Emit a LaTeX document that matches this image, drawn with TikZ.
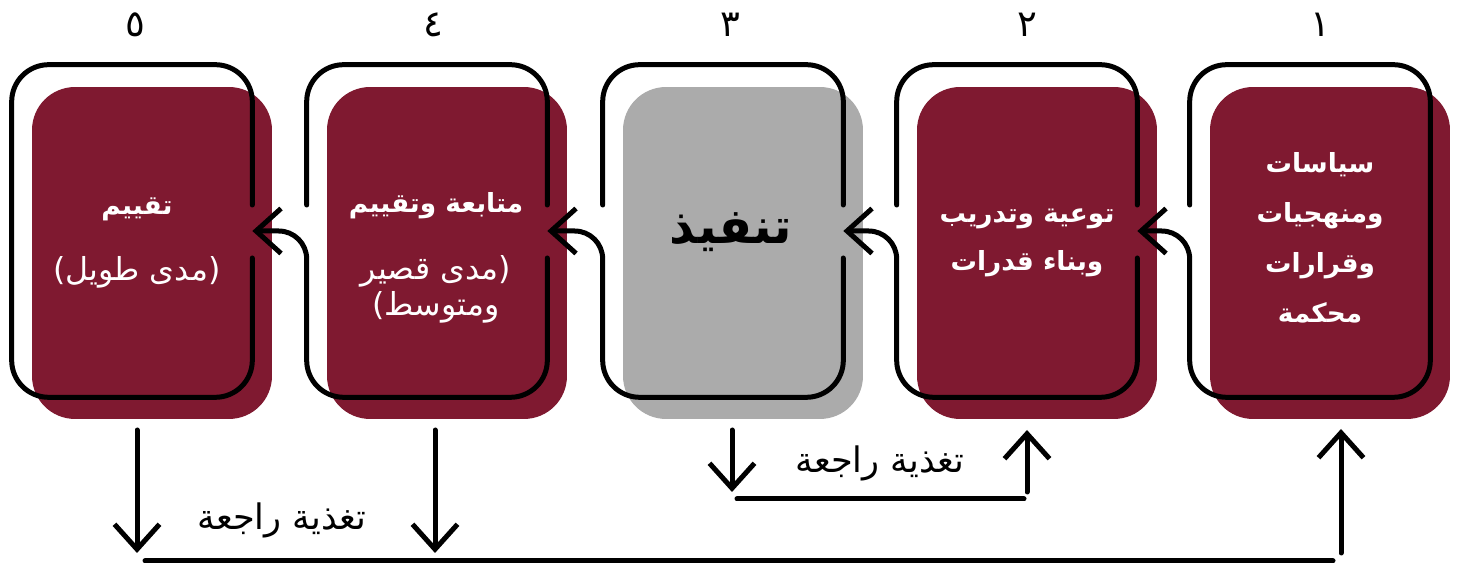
\documentclass[tikz,border=0pt]{standalone}
\usepackage{fontspec}
\setmainfont{DejaVu Sans}
\newfontfamily\arabicfont[Script=Arabic]{DejaVu Sans}
\TeXXeTstate=1
\usepackage{tikz}
\usetikzlibrary{arrows.meta,calc}
\definecolor{cardred}{RGB}{127,25,48}
\definecolor{cardgray}{RGB}{171,171,171}
\tikzset{step card/.style={
    rectangle,
    rounded corners=0.86cm,
    minimum width=4.8cm,
    minimum height=6.64cm,
    inner sep=0pt,
    fill=#1
  },
  step card/.default=cardred,
  step frame/.style={
    rectangle,
    minimum width=4.8cm,
    minimum height=6.64cm,
    inner sep=0pt
  },
  step text/.style={
    align=center,
    text=white,
    inner sep=0pt,
    font=\arabicfont\fontsize{18}{21}\selectfont
  },
  frame line/.style={line width=0.1cm, line cap=round, rounded corners=0.74cm},
  barb tip/.style={-{Straight Barb[length=0.5cm,width=0.9cm]}},
  step number/.style={anchor=base, font=\arabicfont\fontsize{21}{24}\selectfont},
  feedback text/.style={font=\arabicfont\fontsize{20}{24}\selectfont}
}

\begin{document}
\begin{tikzpicture}[x=0.02cm, y=-0.02cm]
    \useasboundingbox (0,0) rectangle (1461,563);
    % cards
    \node[step card] (f5) at (152,253) {};
    \node[step card] (f4) at (447,253) {};
    \node[step card=cardgray] (f3) at (743,253) {};
    \node[step card] (f2) at (1037,253) {};
    \node[step card] (f1) at (1330,253) {};
    \node[step frame] (o5) at (132,231) {};
    \node[step frame] (o4) at (427,231) {};
    \node[step frame] (o3) at (723,231) {};
    \node[step frame] (o2) at (1017,231) {};
    \node[step frame] (o1) at (1310,231) {};
    % texts
    \node[step text] (t5) at (137,243) {{\bfseries\fontsize{15}{21}\selectfont\beginR تقييم\endR}\\[17pt]\beginR(مدى طويل)\endR};
    \node[step text] (t4) at (436,258) {{\bfseries\fontsize{15}{21}\selectfont\beginR متابعة وتقييم\endR}\\[17pt]\beginR(مدى قصير\endR\\\beginR ومتوسط)\endR};
    \node[step text, text=black, font=\arabicfont\bfseries\fontsize{28}{34}\selectfont] (t3) at (731,232) {\beginR تنفيذ\endR};
    \node[step text, font=\arabicfont\bfseries\fontsize{15}{27}\selectfont] (t2) at (1027,243) {\beginR توعية وتدريب\endR\\\beginR وبناء قدرات\endR};
    \node[step text, font=\arabicfont\bfseries\fontsize{15}{28.5}\selectfont] (t1) at (1320,238) {\beginR سياسات\endR\\\beginR ومنهجيات\endR\\\beginR وقرارات\endR\\\beginR محكمة\endR};
    % numbers
    \node[step number] (n5) at (135,37) {٥};
    \node[step number] (n4) at (433,37) {٤};
    \node[step number] (n3) at (730,37) {٣};
    \node[step number] (n2) at (1027,37) {٢};
    \node[step number] (n1) at (1320,37) {١};
    % frames and links
    \draw[frame line] ($(o5.east)+(0,-26)$) -- (o5.north east) -- (o5.north west) -- (o5.south west) -- (o5.south east) -- ($(o5.east)+(0,27)$);
    \draw[frame line] ($(o4.west)+(0,-26)$) -- (o4.north west) -- (o4.north east) -- ($(o4.east)+(0,-26)$);
    \draw[frame line] ($(o3.west)+(0,-26)$) -- (o3.north west) -- (o3.north east) -- ($(o3.east)+(0,-26)$);
    \draw[frame line] ($(o2.west)+(0,-26)$) -- (o2.north west) -- (o2.north east) -- ($(o2.east)+(0,-26)$);
    \draw[frame line, barb tip] ($(o4.east)+(0,27)$) -- (o4.south east) -- (o4.south west) [rounded corners=0.56cm] -- (o4.west) -- (o5.east);
    \draw[frame line, barb tip] ($(o3.east)+(0,27)$) -- (o3.south east) -- (o3.south west) [rounded corners=0.56cm] -- (o3.west) -- (o4.east);
    \draw[frame line, barb tip] ($(o2.east)+(0,27)$) -- (o2.south east) -- (o2.south west) [rounded corners=0.56cm] -- (o2.west) -- (o3.east);
    \draw[frame line, barb tip] ($(o1.west)+(0,-26)$) -- (o1.north west) -- (o1.north east) -- (o1.south east) -- (o1.south west) [rounded corners=0.56cm] -- (o1.west) -- (o2.east);
    % feedback
    \coordinate (a5) at (137,430);
    \coordinate (b5) at (137,553);
    \coordinate (a4) at (435,430);
    \coordinate (b4) at (435,553);
    \coordinate (a1) at (1341,429);
    \coordinate (b1) at (1341,553);
    \coordinate (l1) at (145,561);
    \coordinate (r1) at (1333,561);
    \coordinate (a3) at (732,430);
    \coordinate (b3) at (732,492);
    \coordinate (a2) at (1027,430);
    \coordinate (b2) at (1027,492);
    \coordinate (l2) at (737,499);
    \coordinate (r2) at (1024,499);
    \draw[frame line, barb tip] (a5) -- (b5);
    \draw[frame line, barb tip] (a4) -- (b4);
    \draw[frame line, barb tip] (b1) -- (a1);
    \draw[frame line] (l1) -- (r1);
    \draw[frame line, barb tip] (a3) -- (b3);
    \draw[frame line, barb tip] (b2) -- (a2);
    \draw[frame line] (l2) -- (r2);
    \node[feedback text] (fb1) at (282,520) {\beginR تغذية راجعة\endR};
    \node[feedback text] (fb2) at (880,463) {\beginR تغذية راجعة\endR};
\end{tikzpicture}
\end{document}
